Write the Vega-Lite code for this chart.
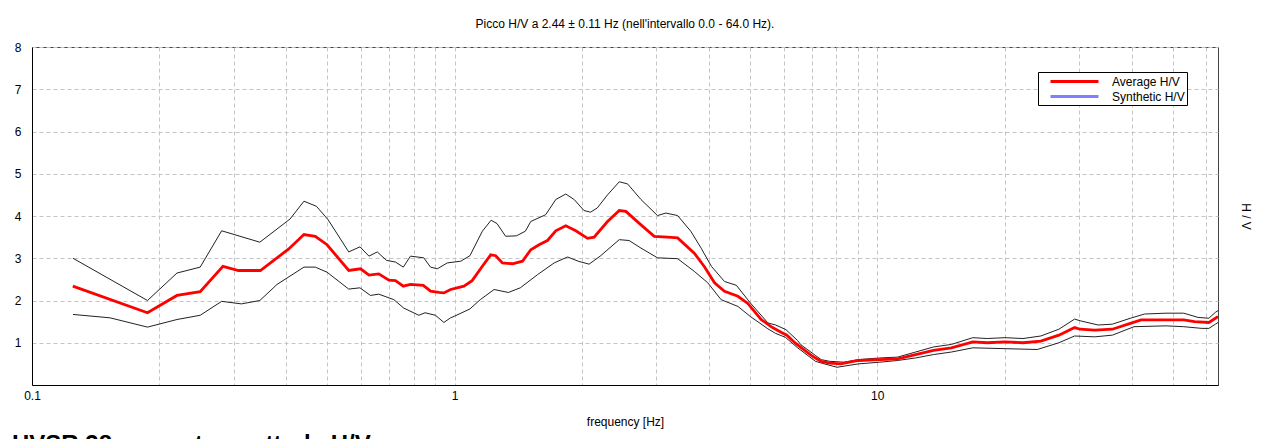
{
  "$schema": "https://vega.github.io/schema/vega-lite/v6.json",
  "width": 1186,
  "height": 338,
  "autosize": {"type": "none"},
  "padding": {"left": 32, "top": 47, "right": 45, "bottom": 54},
  "background": "white",
  "title": {"text": "Picco H/V a 2.44 ± 0.11 Hz (nell'intervallo 0.0 - 64.0 Hz).", "font": "Liberation Sans", "fontSize": 12, "fontWeight": "normal", "color": "#000", "offset": 10, "anchor": "middle"},
  "config": {
    "view": {"stroke": "#444", "strokeWidth": 1},
    "axis": {"labelFont": "Liberation Sans", "titleFont": "Liberation Sans", "labelFontSize": 12, "titleFontSize": 12, "titleFontWeight": "normal", "labelColor": "#000", "titleColor": "#000", "domainColor": "#000", "gridColor": "#c4c4c4", "gridDash": [4, 3], "gridWidth": 1, "ticks": false}
  },
  "datasets": {
    "avg": [
      {"f": 0.1249, "v": 2.34}, {"f": 0.1876, "v": 1.71}, {"f": 0.2203, "v": 2.12}, {"f": 0.25, "v": 2.21},
      {"f": 0.283, "v": 2.81}, {"f": 0.308, "v": 2.71}, {"f": 0.347, "v": 2.71}, {"f": 0.405, "v": 3.22},
      {"f": 0.44, "v": 3.56}, {"f": 0.468, "v": 3.52}, {"f": 0.499, "v": 3.32}, {"f": 0.5616, "v": 2.71},
      {"f": 0.599, "v": 2.75}, {"f": 0.627, "v": 2.6}, {"f": 0.6615, "v": 2.63}, {"f": 0.699, "v": 2.48},
      {"f": 0.7245, "v": 2.47}, {"f": 0.7559, "v": 2.34}, {"f": 0.786, "v": 2.38}, {"f": 0.843, "v": 2.36},
      {"f": 0.877, "v": 2.22}, {"f": 0.918, "v": 2.19}, {"f": 0.943, "v": 2.18}, {"f": 0.978, "v": 2.26},
      {"f": 1.052, "v": 2.34}, {"f": 1.1, "v": 2.47}, {"f": 1.163, "v": 2.81}, {"f": 1.217, "v": 3.08},
      {"f": 1.251, "v": 3.06}, {"f": 1.297, "v": 2.89}, {"f": 1.37, "v": 2.87}, {"f": 1.447, "v": 2.93},
      {"f": 1.514, "v": 3.2}, {"f": 1.584, "v": 3.32}, {"f": 1.658, "v": 3.42}, {"f": 1.735, "v": 3.65},
      {"f": 1.832, "v": 3.77}, {"f": 1.935, "v": 3.65}, {"f": 2.063, "v": 3.47}, {"f": 2.138, "v": 3.5},
      {"f": 2.3, "v": 3.87}, {"f": 2.452, "v": 4.13}, {"f": 2.542, "v": 4.11}, {"f": 2.76, "v": 3.79},
      {"f": 2.967, "v": 3.52}, {"f": 3.19, "v": 3.5}, {"f": 3.37, "v": 3.48}, {"f": 3.69, "v": 3.12},
      {"f": 3.9, "v": 2.8}, {"f": 4.12, "v": 2.42}, {"f": 4.35, "v": 2.22}, {"f": 4.68, "v": 2.1},
      {"f": 4.94, "v": 1.93}, {"f": 5.31, "v": 1.55}, {"f": 5.65, "v": 1.36}, {"f": 5.92, "v": 1.25},
      {"f": 6.11, "v": 1.18}, {"f": 6.4, "v": 0.99}, {"f": 6.98, "v": 0.7}, {"f": 7.14, "v": 0.64},
      {"f": 7.37, "v": 0.56}, {"f": 7.72, "v": 0.52}, {"f": 8.19, "v": 0.5}, {"f": 9.02, "v": 0.58},
      {"f": 10.14, "v": 0.6}, {"f": 11.17, "v": 0.62}, {"f": 12.32, "v": 0.72}, {"f": 13.58, "v": 0.82},
      {"f": 14.97, "v": 0.88}, {"f": 16.83, "v": 1.02}, {"f": 18.2, "v": 1.0}, {"f": 20.06, "v": 1.02},
      {"f": 22.12, "v": 1.0}, {"f": 24.38, "v": 1.04}, {"f": 26.9, "v": 1.18}, {"f": 29.3, "v": 1.36},
      {"f": 30.2, "v": 1.32}, {"f": 32.7, "v": 1.3}, {"f": 36.0, "v": 1.32}, {"f": 39.7, "v": 1.46},
      {"f": 42.1, "v": 1.54}, {"f": 48.2, "v": 1.54}, {"f": 53.1, "v": 1.54}, {"f": 56.3, "v": 1.5},
      {"f": 60.9, "v": 1.48}, {"f": 63.1, "v": 1.58}, {"f": 64, "v": 1.62}
    ],
    "upper": [
      {"f": 0.125, "v": 3.0}, {"f": 0.1876, "v": 2.0}, {"f": 0.2203, "v": 2.65}, {"f": 0.25, "v": 2.79},
      {"f": 0.281, "v": 3.65}, {"f": 0.346, "v": 3.38}, {"f": 0.408, "v": 3.93}, {"f": 0.44, "v": 4.35},
      {"f": 0.471, "v": 4.23}, {"f": 0.502, "v": 3.91}, {"f": 0.5616, "v": 3.15}, {"f": 0.597, "v": 3.27},
      {"f": 0.627, "v": 3.05}, {"f": 0.656, "v": 3.15}, {"f": 0.69, "v": 2.95}, {"f": 0.7245, "v": 2.91},
      {"f": 0.756, "v": 2.79}, {"f": 0.786, "v": 3.05}, {"f": 0.845, "v": 3.01}, {"f": 0.877, "v": 2.79},
      {"f": 0.91, "v": 2.75}, {"f": 0.961, "v": 2.89}, {"f": 1.034, "v": 2.93}, {"f": 1.087, "v": 3.06},
      {"f": 1.163, "v": 3.64}, {"f": 1.22, "v": 3.9}, {"f": 1.26, "v": 3.82}, {"f": 1.32, "v": 3.52},
      {"f": 1.4, "v": 3.53}, {"f": 1.47, "v": 3.64}, {"f": 1.514, "v": 3.87}, {"f": 1.642, "v": 4.03},
      {"f": 1.735, "v": 4.39}, {"f": 1.832, "v": 4.52}, {"f": 1.918, "v": 4.39}, {"f": 2.023, "v": 4.13},
      {"f": 2.097, "v": 4.09}, {"f": 2.175, "v": 4.19}, {"f": 2.3, "v": 4.5}, {"f": 2.452, "v": 4.81},
      {"f": 2.565, "v": 4.76}, {"f": 2.76, "v": 4.39}, {"f": 3.02, "v": 4.01}, {"f": 3.16, "v": 4.07},
      {"f": 3.37, "v": 4.01}, {"f": 3.62, "v": 3.64}, {"f": 3.83, "v": 3.24}, {"f": 4.05, "v": 2.81},
      {"f": 4.35, "v": 2.45}, {"f": 4.64, "v": 2.36}, {"f": 5.01, "v": 1.94}, {"f": 5.51, "v": 1.47},
      {"f": 5.75, "v": 1.42}, {"f": 6.08, "v": 1.31}, {"f": 6.48, "v": 1.05}, {"f": 6.6, "v": 0.95},
      {"f": 7.14, "v": 0.7}, {"f": 7.37, "v": 0.6}, {"f": 7.72, "v": 0.56}, {"f": 8.35, "v": 0.54},
      {"f": 9.02, "v": 0.6}, {"f": 10.14, "v": 0.64}, {"f": 11.17, "v": 0.66}, {"f": 12.32, "v": 0.78},
      {"f": 13.58, "v": 0.9}, {"f": 14.97, "v": 0.96}, {"f": 16.83, "v": 1.12}, {"f": 18.2, "v": 1.1},
      {"f": 20.06, "v": 1.12}, {"f": 22.12, "v": 1.1}, {"f": 24.38, "v": 1.16}, {"f": 26.9, "v": 1.32},
      {"f": 29.3, "v": 1.56}, {"f": 30.2, "v": 1.52}, {"f": 33.3, "v": 1.42}, {"f": 36.0, "v": 1.44},
      {"f": 39.7, "v": 1.58}, {"f": 42.9, "v": 1.68}, {"f": 48.2, "v": 1.7}, {"f": 53.1, "v": 1.7},
      {"f": 57.4, "v": 1.6}, {"f": 60.9, "v": 1.58}, {"f": 63.1, "v": 1.72}, {"f": 64, "v": 1.76}
    ],
    "lower": [
      {"f": 0.125, "v": 1.67}, {"f": 0.153, "v": 1.59}, {"f": 0.1876, "v": 1.37}, {"f": 0.2203, "v": 1.55},
      {"f": 0.25, "v": 1.65}, {"f": 0.281, "v": 1.98}, {"f": 0.313, "v": 1.92}, {"f": 0.346, "v": 2.0},
      {"f": 0.38, "v": 2.38}, {"f": 0.44, "v": 2.79}, {"f": 0.468, "v": 2.79}, {"f": 0.499, "v": 2.67},
      {"f": 0.5616, "v": 2.27}, {"f": 0.597, "v": 2.3}, {"f": 0.632, "v": 2.12}, {"f": 0.6615, "v": 2.15},
      {"f": 0.718, "v": 2.02}, {"f": 0.758, "v": 1.82}, {"f": 0.823, "v": 1.65}, {"f": 0.851, "v": 1.71},
      {"f": 0.901, "v": 1.65}, {"f": 0.943, "v": 1.48}, {"f": 0.978, "v": 1.59}, {"f": 1.0, "v": 1.63},
      {"f": 1.087, "v": 1.8}, {"f": 1.15, "v": 2.02}, {"f": 1.24, "v": 2.26}, {"f": 1.34, "v": 2.19},
      {"f": 1.43, "v": 2.3}, {"f": 1.57, "v": 2.61}, {"f": 1.72, "v": 2.89}, {"f": 1.85, "v": 3.03},
      {"f": 1.96, "v": 2.93}, {"f": 2.08, "v": 2.86}, {"f": 2.21, "v": 3.05}, {"f": 2.452, "v": 3.44},
      {"f": 2.587, "v": 3.42}, {"f": 2.76, "v": 3.24}, {"f": 3.02, "v": 3.01}, {"f": 3.37, "v": 2.99},
      {"f": 3.69, "v": 2.69}, {"f": 3.97, "v": 2.42}, {"f": 4.27, "v": 2.02}, {"f": 4.68, "v": 1.86},
      {"f": 5.01, "v": 1.62}, {"f": 5.51, "v": 1.33}, {"f": 5.75, "v": 1.22}, {"f": 6.06, "v": 1.13},
      {"f": 6.48, "v": 0.88}, {"f": 6.6, "v": 0.82}, {"f": 7.14, "v": 0.56}, {"f": 7.37, "v": 0.52},
      {"f": 8.03, "v": 0.42}, {"f": 9.02, "v": 0.5}, {"f": 10.14, "v": 0.54}, {"f": 11.17, "v": 0.58},
      {"f": 12.32, "v": 0.64}, {"f": 13.58, "v": 0.72}, {"f": 14.97, "v": 0.78}, {"f": 16.83, "v": 0.88},
      {"f": 20.06, "v": 0.86}, {"f": 23.9, "v": 0.84}, {"f": 26.9, "v": 1.0}, {"f": 29.3, "v": 1.16},
      {"f": 32.7, "v": 1.14}, {"f": 36.0, "v": 1.18}, {"f": 40.5, "v": 1.38}, {"f": 48.2, "v": 1.4},
      {"f": 53.1, "v": 1.38}, {"f": 58.6, "v": 1.34}, {"f": 60.9, "v": 1.34}, {"f": 63.1, "v": 1.44},
      {"f": 64, "v": 1.48}
    ],
    "caption": [{"label": "HVSR 38 rapporto spettrale H/V", "f": 0.1, "v": -1.59}]
  },
  "resolve": {"scale": {"y": "independent"}, "axis": {"y": "independent"}},
  "layer": [
    {
      "data": {"name": "upper"},
      "mark": {"type": "line", "color": "#222", "strokeWidth": 1, "clip": true},
      "encoding": {
        "x": {"field": "f", "type": "quantitative", "scale": {"type": "log", "domain": [0.1, 64], "nice": false},
              "axis": {"title": "frequency [Hz]", "grid": true, "values": [0.1, 0.2, 0.3, 0.4, 0.5, 0.6, 0.7, 0.8, 0.9, 1, 2, 3, 4, 5, 6, 7, 8, 9, 10, 20, 30, 40, 50, 60],
                       "labelExpr": "(datum.value == 0.1 || datum.value == 1 || datum.value == 10) ? datum.label : ''", "format": "~g",
                       "labelPadding": 5, "titlePadding": 15, "domainWidth": 1, "labelFlush": false}},
        "y": {"field": "v", "type": "quantitative", "scale": {"domain": [0, 8], "nice": false},
              "axis": {"title": null, "grid": true, "values": [1, 2, 3, 4, 5, 6, 7, 8], "labelPadding": 11, "domainWidth": 1}}
      }
    },
    {
      "data": {"name": "lower"},
      "mark": {"type": "line", "color": "#222", "strokeWidth": 1, "clip": true},
      "encoding": {
        "x": {"field": "f", "type": "quantitative"},
        "y": {"field": "v", "type": "quantitative", "scale": {"domain": [0, 8], "nice": false},
              "axis": {"orient": "right", "title": "H / V", "titleAngle": 90, "titleBaseline": "bottom", "titlePadding": 20, "labels": false, "domain": false, "grid": false}}
      }
    },
    {
      "data": {"name": "avg"},
      "transform": [{"calculate": "'Average H/V'", "as": "series"}],
      "mark": {"type": "line", "strokeWidth": 2.8, "clip": true},
      "encoding": {
        "x": {"field": "f", "type": "quantitative"},
        "y": {"field": "v", "type": "quantitative", "scale": {"domain": [0, 8], "nice": false}, "axis": null},
        "color": {"field": "series", "type": "nominal",
                  "scale": {"domain": ["Average H/V", "Synthetic H/V"], "range": ["#ff0000", "#8080ff"]},
                  "legend": {"title": null, "orient": "none", "legendX": 1006, "legendY": 25, "symbolType": "M-4,0L4,0", "symbolSize": 144, "symbolStrokeWidth": 3,
                             "labelFont": "Liberation Sans", "labelFontSize": 12, "labelColor": "#000", "labelOffset": 30, "rowPadding": 1,
                             "padding": 2, "symbolOffset": 27, "strokeColor": "#000", "fillColor": "#fff", "cornerRadius": 0}}
      }
    },
    {
      "data": {"name": "caption"},
      "mark": {"type": "text", "align": "left", "baseline": "alphabetic", "dx": -20, "font": "Liberation Sans", "fontSize": 24, "fontWeight": "bold", "color": "#000"},
      "encoding": {
        "x": {"field": "f", "type": "quantitative"},
        "y": {"field": "v", "type": "quantitative", "scale": {"domain": [0, 8], "nice": false}, "axis": null},
        "text": {"field": "label"}
      }
    }
  ]
}
